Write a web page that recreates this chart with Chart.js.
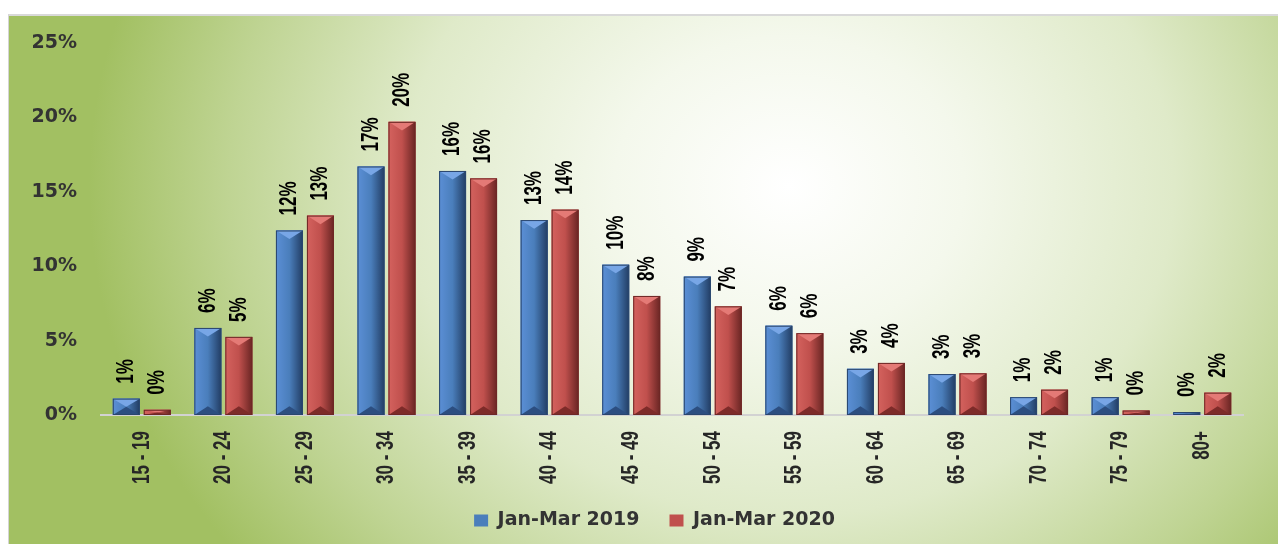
<!DOCTYPE html>
<html>
<head>
<meta charset="utf-8">
<script src="https://cdn.jsdelivr.net/npm/chart.js@4.4.1/dist/chart.umd.min.js"></script>
<style>
  html, body { margin: 0; padding: 0; background: #fff; }
  #wrap { position: relative; width: 1278px; height: 544px; overflow: hidden; }
  #bg {
    position: absolute; left: 8px; top: 14px; right: 0; bottom: 0;
    border-left: 1px solid #d4d4d4; border-top: 2px solid #d9d9d9;
    background: radial-gradient(ellipse 700px 600px at 780px 170px,
      #ffffff 0%, #f4f8ec 25%, #dfeac9 55%, #bfd493 80%, #a2c062 100%);
  }
  canvas { position: absolute; left: 0; top: 0; }
</style>
</head>
<body>
<div id="wrap">
  <div id="bg"></div>
  <canvas id="ageChart" width="1278" height="544"></canvas>
</div>
<script>
// Nhóm tuổi và tỷ lệ (%)
const categories = ["15 - 19", "20 - 24", "25 - 29", "30 - 34", "35 - 39", "40 - 44", "45 - 49",
  "50 - 54", "55 - 59", "60 - 64", "65 - 69", "70 - 74", "75 - 79", "80+"];
const jan2019 = [1.1, 5.85, 12.4, 16.7, 16.4, 13.1, 10.1, 9.3, 6.0, 3.1, 2.75, 1.2, 1.2, 0.2];
const jan2020 = [0.35, 5.25, 13.4, 19.7, 15.9, 13.8, 8.0, 7.3, 5.5, 3.5, 2.8, 1.7, 0.3, 1.5];
const yTicks = [0, 5, 10, 15, 20, 25];

// Màu cho hiệu ứng cột vát
const barColors = [
  { base: "#4a7ebb", side: ["#5b8fd6", "#4a7ebb", "#223d64"], top: "#78a6e6", bottom: "#2c4e80", edge: "#2a466e" },
  { base: "#c0504d", side: ["#d4625e", "#c0504d", "#692523"], top: "#e47a76", bottom: "#7d2b29", edge: "#6e2826" },
];

const rotFont = "bold 17px 'Liberation Sans', Arial, sans-serif";

function shadeBar(ctx, el, c) {
  const p = el.getProps(["x", "y", "base", "width"], true);
  const l = p.x - p.width / 2, r = p.x + p.width / 2;
  const t = Math.min(p.y, p.base), b = Math.max(p.y, p.base);
  const h = b - t;
  if (h <= 0) return;
  const d = Math.min(p.width * 0.32, h / 2);
  const g = ctx.createLinearGradient(l, 0, r, 0);
  g.addColorStop(0, c.side[0]);
  g.addColorStop(0.5, c.side[1]);
  g.addColorStop(1, c.side[2]);
  ctx.fillStyle = g;
  ctx.fillRect(l, t, r - l, h);
  ctx.fillStyle = c.top;
  ctx.beginPath();
  ctx.moveTo(l, t); ctx.lineTo(r, t); ctx.lineTo(p.x, t + d); ctx.closePath();
  ctx.fill();
  ctx.fillStyle = c.bottom;
  ctx.beginPath();
  ctx.moveTo(l, b); ctx.lineTo(r, b); ctx.lineTo(p.x, b - d); ctx.closePath();
  ctx.fill();
  ctx.strokeStyle = c.edge;
  ctx.lineWidth = 1;
  ctx.strokeRect(l + 0.5, t + 0.5, r - l - 1, h - 1);
}

// Chữ xoay dọc, kéo giãn ngang giống hình gốc
function drawRotated(ctx, text, x, y, align, color) {
  ctx.save();
  ctx.translate(x, y);
  ctx.rotate(-Math.PI / 2);
  ctx.scale(1, 1.45);
  ctx.font = rotFont;
  ctx.fillStyle = color;
  ctx.textAlign = align;
  ctx.textBaseline = "middle";
  ctx.fillText(text, 0, 0);
  ctx.restore();
}

// Vẽ hiệu ứng cột, nhãn giá trị và nhãn trục X
const bevelLabels = {
  id: "bevelLabels",
  afterDatasetsDraw(chart) {
    const ctx = chart.ctx;
    chart.data.datasets.forEach((ds, i) => {
      const meta = chart.getDatasetMeta(i);
      meta.data.forEach((el, j) => {
        ctx.save();
        shadeBar(ctx, el, barColors[i]);
        ctx.restore();
        const p = el.getProps(["x", "y"], true);
        drawRotated(ctx, Math.round(ds.data[j]) + "%", p.x, p.y - 15, "left", "#000");
      });
    });
    const xs = chart.scales.x;
    chart.data.labels.forEach((lab, k) => {
      drawRotated(ctx, lab, xs.getPixelForTick(k), xs.top + 16, "right", "#262626");
    });
  },
};

// Dời chú thích cho đúng chỗ
const legendShift = {
  id: "legendShift",
  afterLayout(chart) {
    const lg = chart.legend;
    lg.top -= 33; lg.bottom -= 33;
    lg.left += 33; lg.right += 33;
  },
};

const ctxAge = document.getElementById("ageChart").getContext("2d");
const ageChart = new Chart(ctxAge, {
  type: "bar",
  data: {
    labels: categories,
    datasets: [
      { label: "Jan-Mar 2019", data: jan2019, backgroundColor: barColors[0].base, borderWidth: 0 },
      { label: "Jan-Mar 2020", data: jan2020, backgroundColor: barColors[1].base, borderWidth: 0 },
    ],
  },
  options: {
    responsive: false,
    animation: false,
    layout: { padding: { top: 43, right: 35, left: 0, bottom: -29 } },
    datasets: { bar: { categoryPercentage: 0.76, barPercentage: 0.87 } },
    scales: {
      x: {
        grid: { display: false, drawTicks: false },
        border: { display: true, color: "#d2d2d2", width: 2 },
        ticks: { display: false },
        afterFit(scale) { scale.height = 99; },
      },
      y: {
        min: 0,
        max: 25,
        grid: { display: false, drawTicks: false },
        border: { display: false },
        afterBuildTicks(scale) { scale.ticks = yTicks.map(v => ({ value: v })); },
        ticks: {
          padding: 24,
          color: "#333",
          font: { family: "'DejaVu Sans', sans-serif", weight: "bold", size: 19 },
          callback: v => v + "%",
        },
        afterFit(scale) { scale.width = 101; },
      },
    },
    plugins: {
      legend: {
        position: "bottom",
        labels: {
          boxWidth: 14,
          boxHeight: 12,
          padding: 30,
          color: "#333",
          font: { family: "'DejaVu Sans', sans-serif", weight: "bold", size: 19 },
        },
      },
      tooltip: { enabled: false },
    },
  },
  plugins: [bevelLabels, legendShift],
});
</script>
</body>
</html>
